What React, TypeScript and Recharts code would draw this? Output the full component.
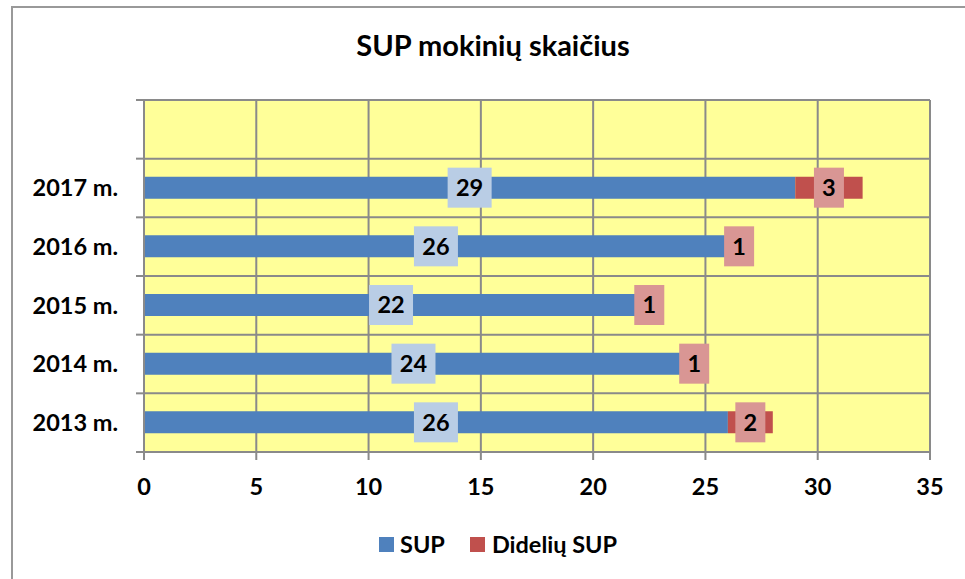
import React from "react";
import {
  Bar,
  BarChart,
  CartesianGrid,
  LabelList,
  XAxis,
  YAxis,
} from "recharts";

const years = ["", "2017 m.", "2016 m.", "2015 m.", "2014 m.", "2013 m."];
const supValues = [null, 29, 26, 22, 24, 26];
const dideliuValues = [null, 3, 1, 1, 1, 2];
const xTicks = [0, 5, 10, 15, 20, 25, 30, 35];

const data = years.map((year, i) => ({
  year,
  sup: supValues[i],
  didelių: dideliuValues[i],
}));

const FONT = "Lato, 'Open Sans', sans-serif";
const GRID = "#8a8a8a";
const BLUE = "#4f81bd";
const RED = "#c0504d";
const TXT = 23.5;

const W = 965;
const H = 579;
const PLOT_TOP = 100;
const PLOT_BOTTOM = 127;
const PLOT_H = H - PLOT_TOP - PLOT_BOTTOM;
const BAND = PLOT_H / years.length;

function YTick(props: any) {
  const { x, y, payload, index } = props;
  const lx = x + 18;
  return (
    <g>
      <text
        x={x}
        y={y}
        dy="0.36em"
        textAnchor="end"
        fontFamily={FONT}
        fontWeight={700}
        fontSize={TXT}
        fill="#000"
      >
        {payload.value}
      </text>
      <line x1={lx} x2={lx + 8} y1={y - BAND / 2} y2={y - BAND / 2} stroke={GRID} strokeWidth={2} />
      {index === years.length - 1 && (
        <line x1={lx} x2={lx + 8} y1={y + BAND / 2} y2={y + BAND / 2} stroke={GRID} strokeWidth={2} />
      )}
    </g>
  );
}

function boxLabel(fill: string) {
  return (props: any) => {
    const { x, y, width, height, value } = props;
    if (value == null) return null;
    const cx = x + width / 2;
    const cy = y + height / 2;
    const w = String(value).length > 1 ? 44 : 30;
    return (
      <g>
        <rect x={cx - w / 2} y={cy - 20} width={w} height={40} fill={fill} />
        <text
          x={cx}
          y={cy}
          dy="0.36em"
          textAnchor="middle"
          fontFamily={FONT}
          fontWeight={700}
          fontSize={TXT}
          fill="#000"
        >
          {value}
        </text>
      </g>
    );
  };
}

export default function App() {
  return (
    <div
      style={{
        position: "absolute",
        left: 0,
        top: 0,
        width: W,
        height: H,
        overflow: "hidden",
        background: "#fff",
        fontFamily: FONT,
      }}
    >
      <div
        style={{
          position: "absolute",
          left: 11,
          top: 6,
          width: W,
          height: H + 20,
          borderLeft: "2px solid #999",
          borderTop: "2px solid #999",
        }}
      />
      <div
        style={{
          position: "absolute",
          top: 30,
          left: 0,
          width: 986,
          textAlign: "center",
          fontSize: 29,
          fontWeight: 700,
          lineHeight: 1,
        }}
      >
        SUP mokinių skaičius
      </div>
      <div style={{ position: "absolute", top: 0, left: 0 }}>
        <BarChart
          width={W}
          height={H}
          data={data}
          layout="vertical"
          margin={{ top: PLOT_TOP, right: 35, left: 0, bottom: PLOT_BOTTOM - 40 }}
          barSize={22}
        >
          <CartesianGrid
            fill="#ffff99"
            stroke={GRID}
            strokeWidth={2}
            horizontalCoordinatesGenerator={({ offset }: any) =>
              years.map((_, i) => offset.top + (i * offset.height) / years.length)
            }
          />
          <XAxis
            type="number"
            domain={[0, 35]}
            ticks={xTicks}
            interval={0}
            height={40}
            tickSize={8}
            tickMargin={18}
            axisLine={{ stroke: GRID, strokeWidth: 2 }}
            tickLine={{ stroke: GRID, strokeWidth: 2 }}
            tick={{ fontFamily: FONT, fontWeight: 700, fontSize: TXT, fill: "#000" }}
          />
          <YAxis
            type="category"
            dataKey="year"
            width={144}
            tickSize={8}
            tickMargin={18}
            tickLine={false}
            interval={0}
            axisLine={{ stroke: GRID, strokeWidth: 2 }}
            tick={<YTick />}
          />
          <Bar dataKey="sup" stackId="a" fill={BLUE} isAnimationActive={false}>
            <LabelList dataKey="sup" content={boxLabel("#b9cde5")} />
          </Bar>
          <Bar dataKey="didelių" stackId="a" fill={RED} isAnimationActive={false}>
            <LabelList dataKey="didelių" content={boxLabel("#d99694")} />
          </Bar>
        </BarChart>
      </div>
      <div
        style={{
          position: "absolute",
          top: 530,
          left: 379,
          display: "flex",
          alignItems: "center",
          fontSize: TXT,
          fontWeight: 700,
          lineHeight: "28px",
        }}
      >
        <span style={{ width: 15, height: 15, background: BLUE, marginRight: 6 }} />
        <span style={{ marginRight: 25 }}>SUP</span>
        <span style={{ width: 15, height: 15, background: RED, marginRight: 7 }} />
        <span>Didelių SUP</span>
      </div>
    </div>
  );
}
